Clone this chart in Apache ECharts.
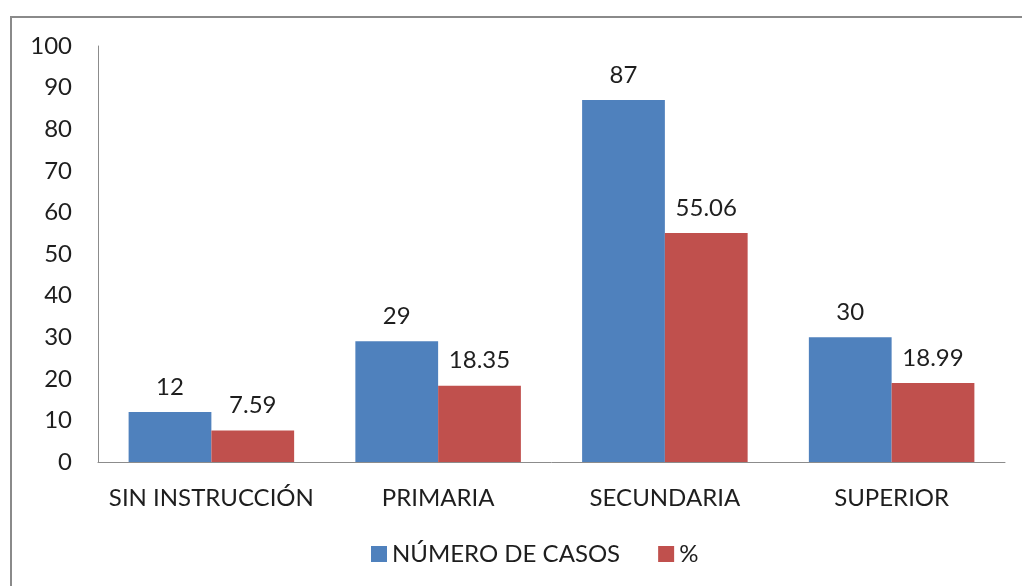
<!DOCTYPE html>
<html>
<head>
<meta charset="utf-8">
<script src="https://cdn.jsdelivr.net/npm/echarts@6/dist/echarts.min.js"></script>
<style>html,body{margin:0;padding:0;background:#fff;}#c{width:1022px;height:586px;}</style>
</head>
<body>
<div id="c"></div>
<script>
const categories = ['SIN INSTRUCCIÓN', 'PRIMARIA', 'SECUNDARIA', 'SUPERIOR'];
const casos = [12, 29, 87, 30];
const pct = [7.59, 18.35, 55.06, 18.99];
const seriesNames = ['NÚMERO DE CASOS', '%'];

const font = 'Lato, "Open Sans", sans-serif';
const txt = '#1e1e1e';
const chart = echarts.init(document.getElementById('c'));
chart.setOption({
  animation: false,
  backgroundColor: '#fff',
  graphic: [{
    type: 'rect', shape: {x: 11, y: 17, width: 1100, height: 700},
    style: {fill: 'none', stroke: '#8a8a8a', lineWidth: 2}, silent: true
  }],
  grid: {left: 98, right: 17, top: 46, bottom: 124, containLabel: false},
  legend: {
    bottom: 15, left: 366, itemWidth: 16, itemHeight: 16, itemGap: 38,
    icon: 'rect',
    textStyle: {fontFamily: font, fontSize: 24, color: txt},
    data: seriesNames
  },
  xAxis: {
    type: 'category', data: categories,
    axisLine: {lineStyle: {color: '#8c8c8c', width: 1}},
    axisTick: {show: false},
    axisLabel: {interval: 0, fontFamily: font, fontSize: 24, color: txt, margin: 24}
  },
  yAxis: {
    type: 'value', min: 0, max: 100, interval: 10,
    axisLine: {show: true, lineStyle: {color: '#8c8c8c', width: 1}},
    axisTick: {show: false},
    splitLine: {show: false},
    axisLabel: {fontFamily: font, fontSize: 24, color: txt, margin: 26}
  },
  series: [{
    name: seriesNames[0], type: 'bar', data: casos,
    barGap: '0%', barCategoryGap: '27%',
    itemStyle: {color: '#4F81BD'},
    label: {show: true, position: 'top', distance: 13, fontFamily: font, fontSize: 24, color: txt}
  }, {
    name: seriesNames[1], type: 'bar', data: pct,
    itemStyle: {color: '#C0504D'},
    label: {show: true, position: 'top', distance: 13, fontFamily: font, fontSize: 24, color: txt}
  }]
});
</script>
</body>
</html>
